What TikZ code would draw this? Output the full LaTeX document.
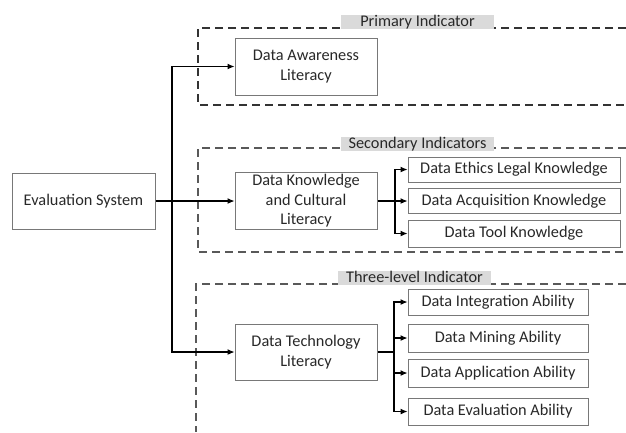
\documentclass[tikz,border=0pt]{standalone}
\usepackage{fontspec}
\setmainfont{Carlito}
\usetikzlibrary{arrows.meta}
\definecolor{boxline}{RGB}{120,120,120}
\definecolor{txt}{RGB}{40,40,40}
\definecolor{lblfill}{RGB}{218,218,218}
\tikzset{
  box/.style={draw=boxline, line width=1pt, rectangle, inner sep=0pt, align=center, text=txt, font=\fontsize{16.3}{19.5}\selectfont},
  lbl/.style={fill=lblfill, inner xsep=0pt, inner ysep=1pt, text height=10.5pt, text depth=1pt, text=txt, font=\fontsize{16.3}{19}\selectfont, minimum width=153pt, anchor=south},
  frame/.style={draw=black!80, line width=1.1pt, dash pattern=on 8pt off 5pt},
  conn/.style={draw=black, line width=1.1pt},
  arr/.style={conn, -{Latex[length=7pt,width=6pt]}}
}
\begin{document}
\begin{tikzpicture}[x=1pt,y=-1pt]
\useasboundingbox (0,0) rectangle (626,432);
% frames
\draw[frame] (626,28) -- (198,28) -- (198,105) -- (626,105);
\draw[frame, draw=black!65] (626,148) -- (198,148) -- (198,252) -- (626,252);
\draw[frame, draw=black!65] (626,284) -- (196,284) -- (196,432);
% labels
\node[lbl] (l1) at (417.5,29) {Primary Indicator};
\node[lbl] (l2) at (417.5,151) {Secondary Indicators};
\node[lbl] (l3) at (414.5,285) {Three-level Indicator};
% main nodes
\node[box, minimum width=143pt, minimum height=56pt] (eval) at (83.5,201) {Evaluation System};
\node[box, minimum width=142pt, minimum height=57pt] (aware) at (306,66.5) {Data Awareness\\Literacy};
\node[box, minimum width=142pt, minimum height=57pt] (know) at (306,201) {Data Knowledge\\and Cultural\\Literacy};
\node[box, minimum width=142pt, minimum height=56pt] (tech) at (306,352) {Data Technology\\Literacy};
% second level
\node[box, minimum width=212pt, minimum height=25pt] (ethics) at (514,169.5) {Data Ethics Legal Knowledge};
\node[box, minimum width=212pt, minimum height=25pt] (acq) at (514,201) {Data Acquisition Knowledge};
\node[box, minimum width=212pt, minimum height=27pt] (tool) at (514,233.5) {Data Tool Knowledge};
\node[box, minimum width=180pt, minimum height=26pt] (integ) at (498,302) {Data Integration Ability};
\node[box, minimum width=180pt, minimum height=28pt] (mining) at (498,338) {Data Mining Ability};
\node[box, minimum width=180pt, minimum height=28pt] (appl) at (498,373) {Data Application Ability};
\node[box, minimum width=180pt, minimum height=27pt] (evalab) at (498,411.5) {Data Evaluation Ability};
% connectors
\coordinate (t0) at (172,201);
\draw[arr] (eval.east) -- (know.west);
\draw[arr] (t0) |- (aware.west);
\draw[arr] (t0) |- (tech.west);
\coordinate (k0) at (395,201);
\draw[arr] (know.east) -- (acq.west);
\draw[arr] (k0) |- (ethics.west);
\draw[arr] (k0) |- (tool.west);
\coordinate (m0) at (394,352);
\draw[conn] (tech.east) -- (m0);
\draw[arr] (m0) |- (integ.west);
\draw[arr] (m0) |- (mining.west);
\draw[arr] (m0) |- (appl.west);
\draw[arr] (m0) |- (evalab.west);
\end{tikzpicture}
\end{document}
